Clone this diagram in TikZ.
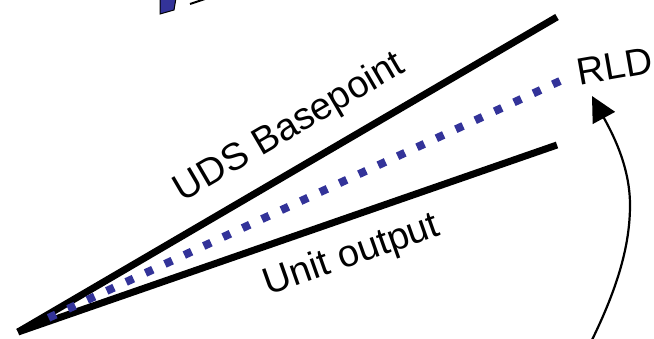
\documentclass[tikz,border=0pt]{standalone}
\usepackage{fontspec}
\setmainfont{Liberation Sans}
\usetikzlibrary{arrows.meta}
\definecolor{dotblue}{HTML}{333399}
\begin{document}
\begin{tikzpicture}[x=1pt,y=-1pt,
  ray/.style={line width=7pt},
  dotray/.style={dotblue,line width=8pt,dash pattern=on 8pt off 13.37pt},
  lbl/.style={font=\fontsize{38}{42}\selectfont,inner sep=0pt},
  curvearrow/.style={line width=2.2pt,-{Triangle[length=25pt,width=25pt]}},
  frag/.style={fill=dotblue,draw=black,line width=1pt}
  ]
\useasboundingbox (0,0) rectangle (654,338);
\clip (0,0) rectangle (654,338);
% cut-off fragment at top
\path[frag] (160,-2) -- (176,-2) -- (174,10) -- (160,14) -- cycle;
\draw[line width=2pt] (190,4) -- (205,-1);
% rays
\coordinate (O) at (18,332);
\coordinate (A) at (557,17);
\coordinate (B) at (557,145);
\coordinate (C) at (560,81);
\coordinate (D) at (44,320);
\draw[ray] (O) -- (A);
\draw[ray] (O) -- (B);
\draw[dotray] (C) -- (D);
% labels
\node[lbl,rotate=30.3] (uds) at (290,128) {UDS Basepoint};
\node[lbl,rotate=19.5] (unit) at (352,256) {Unit output};
\node[lbl,rotate=10] (rld) at (615,66) {RLD};
% curved arrow
\coordinate (s) at (591,342);
\coordinate (m) at (630,205);
\coordinate (tip) at (592,96);
\draw[curvearrow] (s) .. controls (618,287) and (630,245) .. (m)
  .. controls (630,165) and (611,131) .. (tip);
\end{tikzpicture}
\end{document}
